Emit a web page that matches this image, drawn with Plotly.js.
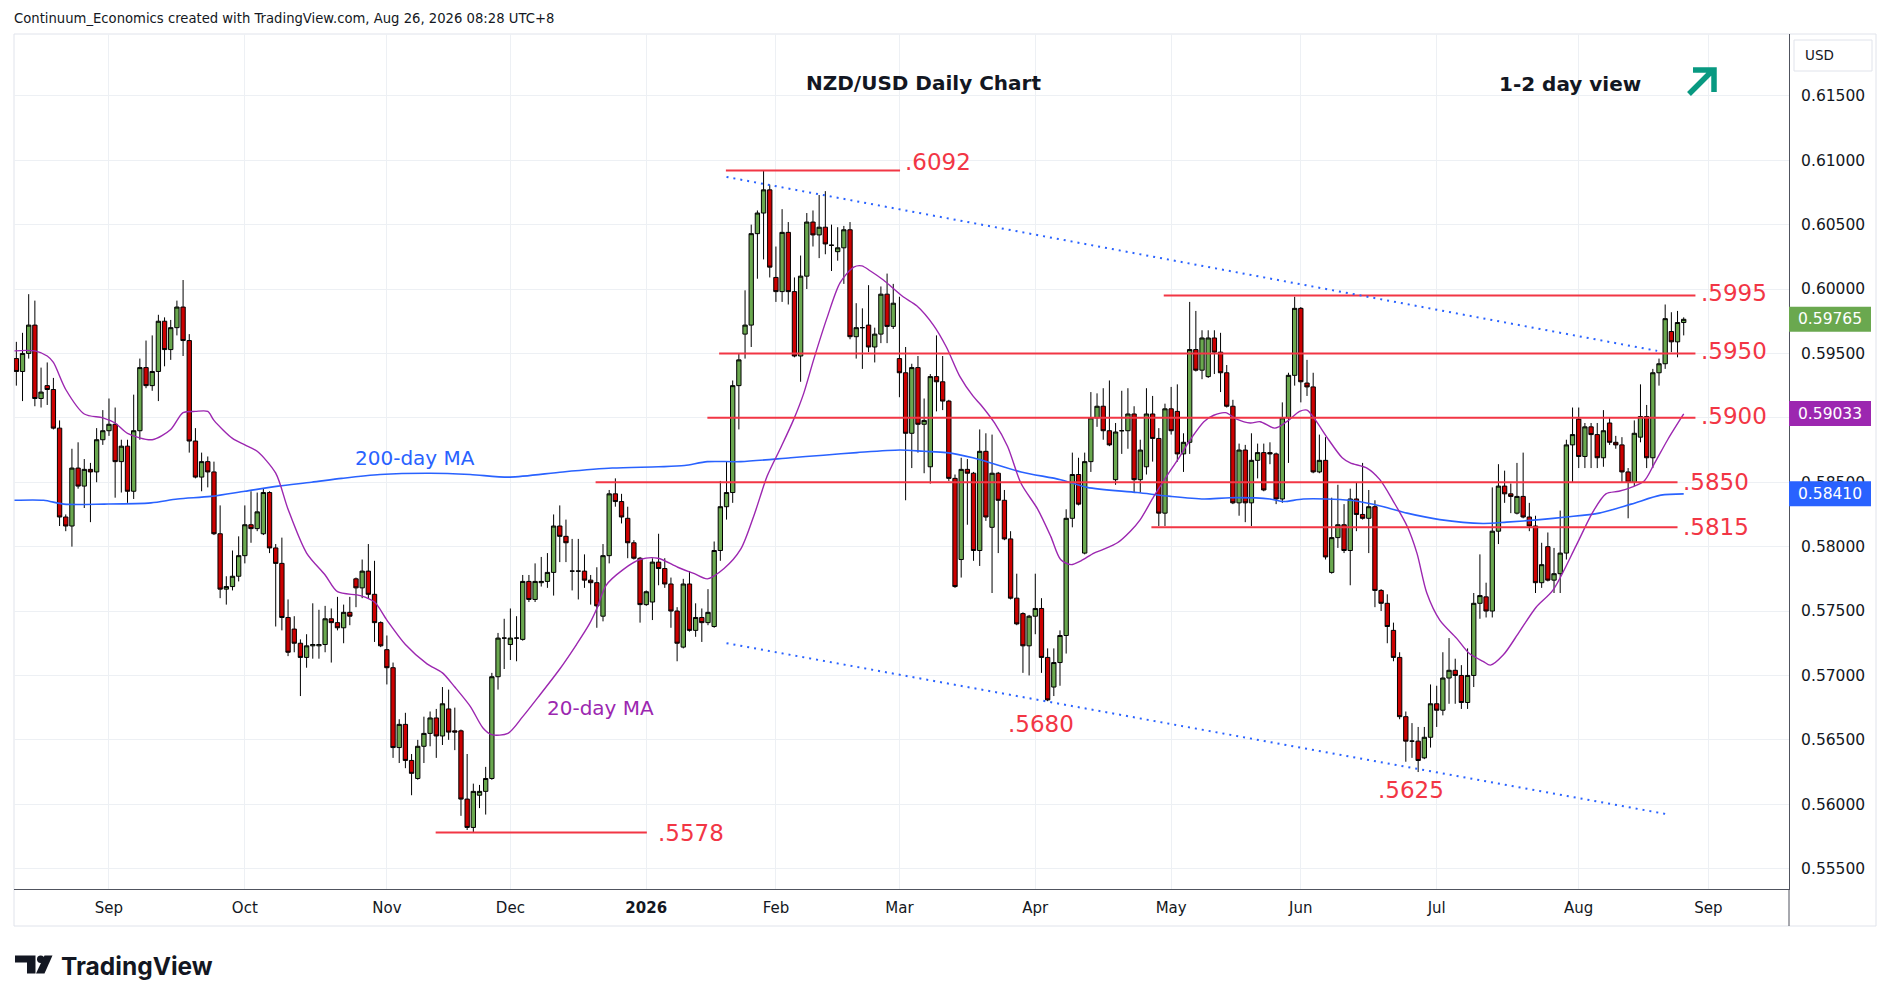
<!DOCTYPE html>
<html>
<head>
<meta charset="utf-8">
<script src="https://cdn.plot.ly/plotly-3.0.1.min.js"></script>
<style>html,body{margin:0;padding:0;background:#fff;}#chart{width:1889px;height:1003px;}</style>
</head>
<body>
<div id="chart"></div>
<script>
// ---------------- DATA ----------------
// daily bars, bar 1 = 11 Aug 2025, last bar = 26 Aug 2026
const openP = [
.5946,.5936,.5950,.5972,.5915,.5925,.5922,.5892,.5823,.5816,
.5861,.5847,.5860,.5858,.5883,.5890,.5895,.5866,.5878,.5843,
.5890,.5939,.5925,.5936,.5975,.5953,.5970,.5986,.5960,.5882,
.5854,.5866,.5858,.5810,.5767,.5769,.5777,.5793,.5817,.5814,
.5810,.5842,.5799,.5787,.5745,.5736,.5725,.5714,.5723,.5723,
.5724,.5744,.5741,.5737,.5749,.5775,.5768,.5781,.5763,.5741,
.5720,.5706,.5644,.5662,.5634,.5620,.5645,.5655,.5667,.5653,
.5674,.5657,.5657,.5604,.5582,.5607,.5610,.5620,.5699,.5729,
.5724,.5729,.5728,.5773,.5759,.5772,.5773,.5780,.5816,.5808,
.5781,.5781,.5781,.5774,.5772,.5746,.5793,.5841,.5835,.5822,
.5803,.5791,.5755,.5757,.5788,.5783,.5771,.5750,.5722,.5771,
.5735,.5745,.5741,.5738,.5797,.5831,.5842,.5925,.5965,.5972,
.6043,.6059,.6077,.6009,.5998,.6044,.5998,.5948,.6010,.6052,
.6042,.6048,.6034,.6029,.6032,.6046,.5963,.5970,.5972,.5955,
.5965,.5996,.5971,.5946,.5935,.5888,.5939,.5895,.5862,.5932,
.5928,.5913,.5853,.5790,.5860,.5857,.5797,.5874,.5815,.5857,
.5836,.5806,.5760,.5748,.5723,.5746,.5752,.5714,.5691,.5710,
.5731,.5822,.5856,.5795,.5866,.5900,.5909,.5890,.5852,.5890,
.5890,.5903,.5852,.5862,.5903,.5884,.5826,.5907,.5905,.5872,
.5881,.5953,.5937,.5932,.5962,.5951,.5935,.5909,.5834,.5875,
.5834,.5867,.5873,.5873,.5872,.5837,.5900,.5933,.5985,.5927,
.5924,.5858,.5867,.5780,.5807,.5817,.5797,.5837,.5825,.5822,
.5831,.5766,.5756,.5735,.5714,.5668,.5649,.5649,.5636,.5652,
.5678,.5673,.5698,.5704,.5700,.5679,.5700,.5756,.5761,.5750,
.5812,.5847,.5841,.5826,.5839,.5823,.5816,.5772,.5800,.5774,
.5779,.5795,.5879,.5899,.5870,.5893,.5887,.5869,.5896,.5881,
.5879,.5858,.5850,.5885,.5901,.5869,.5935,.5942,.5967,.5959,.5974];
const highP = [
.5959,.5966,.5996,.5991,.5939,.5943,.5931,.5898,.5825,.5876,
.5881,.5868,.5865,.5892,.5906,.5915,.5908,.5883,.5883,.5918,
.5946,.5960,.5964,.5980,.5978,.5976,.5991,.6007,.5965,.5892,
.5873,.5870,.5866,.5832,.5777,.5797,.5808,.5832,.5843,.5842,
.5845,.5843,.5802,.5807,.5759,.5746,.5728,.5732,.5756,.5751,
.5754,.5752,.5761,.5755,.5761,.5776,.5790,.5802,.5789,.5742,
.5731,.5710,.5666,.5671,.5639,.5650,.5668,.5672,.5674,.5691,
.5689,.5675,.5658,.5639,.5616,.5615,.5629,.5702,.5733,.5744,
.5752,.5746,.5778,.5778,.5787,.5792,.5795,.5825,.5832,.5821,
.5806,.5806,.5794,.5778,.5784,.5802,.5844,.5853,.5841,.5831,
.5805,.5792,.5766,.5791,.5810,.5791,.5776,.5753,.5775,.5781,
.5756,.5752,.5767,.5804,.5851,.5866,.5929,.5950,.5999,.6050,
.6061,.6092,.6081,.6033,.6062,.6052,.6009,.6026,.6059,.6061,
.6073,.6076,.6050,.6048,.6049,.6052,.5989,.5985,.6003,.5970,
.6002,.6012,.6004,.5994,.5955,.5942,.5948,.5915,.5934,.5964,
.5948,.5914,.5856,.5869,.5868,.5858,.5891,.5888,.5887,.5858,
.5844,.5812,.5779,.5749,.5747,.5779,.5760,.5721,.5721,.5735,
.5829,.5873,.5869,.5873,.5920,.5919,.5923,.5929,.5896,.5921,
.5923,.5909,.5883,.5923,.5917,.5892,.5911,.5924,.5926,.5888,
.5990,.5983,.5968,.5968,.5968,.5966,.5941,.5914,.5880,.5879,
.5888,.5880,.5880,.5881,.5873,.5912,.5935,.5994,.5986,.5945,
.5935,.5887,.5885,.5838,.5848,.5833,.5845,.5850,.5865,.5844,
.5836,.5767,.5763,.5741,.5718,.5672,.5663,.5660,.5660,.5693,
.5692,.5718,.5729,.5713,.5708,.5721,.5764,.5794,.5772,.5846,
.5864,.5859,.5849,.5865,.5873,.5834,.5824,.5803,.5811,.5799,
.5828,.5883,.5908,.5908,.5896,.5896,.5896,.5906,.5900,.5886,
.5885,.5861,.5898,.5926,.5910,.5938,.5946,.5988,.5982,.5983,.5978];
const lowP = [
.5925,.5913,.5946,.5909,.5908,.5910,.5891,.5816,.5812,.5800,
.5845,.5830,.5819,.5850,.5879,.5886,.5838,.5842,.5834,.5837,
.5883,.5923,.5921,.5913,.5940,.5945,.5964,.5948,.5873,.5853,
.5843,.5846,.5809,.5760,.5755,.5766,.5773,.5787,.5803,.5812,
.5809,.5795,.5738,.5735,.5715,.5718,.5684,.5706,.5713,.5713,
.5718,.5710,.5735,.5725,.5739,.5753,.5760,.5760,.5726,.5722,
.5693,.5636,.5632,.5628,.5607,.5619,.5632,.5645,.5636,.5646,
.5650,.5642,.5591,.5580,.5578,.5597,.5592,.5619,.5689,.5705,
.5712,.5711,.5727,.5757,.5757,.5769,.5768,.5762,.5788,.5788,
.5766,.5759,.5768,.5755,.5737,.5742,.5787,.5831,.5818,.5791,
.5790,.5741,.5754,.5743,.5770,.5768,.5737,.5711,.5721,.5734,
.5730,.5726,.5739,.5737,.5789,.5821,.5834,.5891,.5946,.5955,
.6008,.6023,.6009,.5990,.5990,.5988,.5947,.5928,.6000,.6033,
.6024,.6027,.6014,.6022,.6004,.5961,.5946,.5938,.5951,.5943,
.5958,.5958,.5969,.5916,.5836,.5861,.5873,.5857,.5849,.5905,
.5906,.5851,.5768,.5776,.5817,.5789,.5785,.5820,.5764,.5795,
.5805,.5759,.5739,.5702,.5700,.5732,.5702,.5680,.5684,.5692,
.5717,.5815,.5832,.5794,.5858,.5893,.5883,.5878,.5848,.5872,
.5876,.5842,.5842,.5856,.5866,.5816,.5816,.5887,.5866,.5858,
.5872,.5936,.5930,.5931,.5934,.5920,.5908,.5833,.5824,.5819,
.5816,.5853,.5843,.5864,.5833,.5834,.5865,.5925,.5912,.5917,
.5857,.5857,.5790,.5779,.5799,.5795,.5770,.5812,.5821,.5795,
.5753,.5750,.5725,.5711,.5666,.5633,.5636,.5625,.5635,.5644,
.5660,.5669,.5678,.5678,.5674,.5674,.5691,.5744,.5745,.5745,
.5802,.5834,.5826,.5825,.5822,.5812,.5764,.5768,.5773,.5764,
.5764,.5790,.5850,.5861,.5861,.5861,.5861,.5862,.5879,.5876,
.5850,.5822,.5847,.5881,.5861,.5861,.5925,.5938,.5951,.5947,.5964];
const closeP = [
.5936,.5950,.5972,.5915,.5920,.5922,.5892,.5823,.5816,.5861,
.5847,.5860,.5858,.5883,.5890,.5895,.5866,.5878,.5843,.5890,
.5939,.5925,.5936,.5975,.5953,.5970,.5986,.5960,.5882,.5854,
.5866,.5858,.5810,.5767,.5769,.5777,.5793,.5817,.5814,.5827,
.5842,.5799,.5787,.5745,.5718,.5725,.5714,.5723,.5724,.5724,
.5744,.5741,.5737,.5749,.5746,.5768,.5781,.5763,.5741,.5723,
.5706,.5644,.5662,.5634,.5624,.5645,.5655,.5667,.5653,.5678,
.5656,.5656,.5604,.5582,.5610,.5610,.5620,.5699,.5729,.5729,
.5729,.5729,.5773,.5759,.5773,.5773,.5780,.5816,.5808,.5803,
.5781,.5781,.5774,.5772,.5754,.5793,.5841,.5835,.5823,.5803,
.5791,.5755,.5765,.5788,.5783,.5771,.5750,.5725,.5771,.5735,
.5745,.5741,.5749,.5797,.5831,.5842,.5925,.5945,.5972,.6043,
.6059,.6077,.6017,.5998,.6044,.5998,.5948,.6010,.6052,.6042,
.6048,.6035,.6034,.6032,.6046,.5963,.5970,.5970,.5955,.5965,
.5996,.5971,.5989,.5935,.5888,.5939,.5895,.5898,.5932,.5928,
.5913,.5853,.5769,.5860,.5857,.5797,.5874,.5823,.5857,.5836,
.5806,.5760,.5740,.5723,.5746,.5752,.5714,.5681,.5710,.5731,
.5822,.5856,.5833,.5866,.5900,.5909,.5890,.5879,.5889,.5890,
.5903,.5852,.5875,.5903,.5884,.5826,.5907,.5890,.5872,.5881,
.5953,.5937,.5962,.5962,.5951,.5935,.5909,.5834,.5875,.5834,
.5867,.5873,.5844,.5872,.5837,.5900,.5933,.5985,.5928,.5924,
.5858,.5867,.5792,.5807,.5817,.5797,.5837,.5825,.5822,.5831,
.5766,.5756,.5738,.5714,.5668,.5649,.5649,.5634,.5652,.5678,
.5673,.5698,.5704,.5700,.5679,.5700,.5756,.5762,.5750,.5812,
.5847,.5841,.5839,.5839,.5823,.5816,.5772,.5786,.5774,.5779,
.5795,.5879,.5887,.5870,.5893,.5887,.5869,.5890,.5881,.5879,
.5858,.5850,.5888,.5901,.5869,.5935,.5942,.5977,.5959,.5974,.59765];

// 20-day moving average (at bar positions)
const ma20Bar = [0.7,4,6,7,9,12,15,17,19,23,26,28,30,32,33,36,38,40,43,45,48,51,53,56.7,59,61,64,67.5,70,72,74.5,76.6,78,80.6,83,85.8,89,91.7,93.8,95,96.5,99.2,102,104.9,108.1,110.8,112.9,115.6,118.3,120.5,122.6,124.8,126.9,128.5,130.1,132.3,134.4,136.6,137.9,139.3,141.4,144.6,146.8,149.5,151.6,153.8,155.9,157.2,159.4,161.5,163.7,166.4,168.5,170.1,171.8,173.4,175.5,177.1,179.3,181.4,183,185.2,187.3,189,191.1,193.3,194.9,196.8,198.6,200.8,202.4,204.8,206.7,208.8,210,211.4,213.5,215.7,217,219.7,221.8,224,226.2,227.8,229.4,231.5,234.2,236.3,238.5,239.7,241.8,244.4,247.1,249.8,253.6,256.3,258.4,260.5,262.5,264.6,266.2,268.4,271];
const ma20Val = [.5952,.5952,.5948,.5943,.5922,.5903,.5900,.5896,.5888,.5883,.5891,.5904,.5905,.5905,.5898,.5884,.5879,.5874,.5857,.5829,.5795,.5778,.5765,.5762,.5757,.5743,.5724,.5709,.5702,.5691,.5676,.5659,.5654,.5655,.5668,.5685,.5705,.5724,.5740,.5752,.5770,.5782,.5790,.5791,.5784,.5779,.5775,.5783,.5798,.5825,.5855,.5877,.5899,.5919,.5945,.5978,.6005,.6017,.6018,.6014,.6007,.5994,.5987,.5972,.5955,.5932,.5917,.5910,.5896,.5878,.5849,.5829,.5808,.5790,.5786,.5789,.5795,.5798,.5803,.5812,.5821,.5839,.5855,.5867,.5883,.5897,.5902,.5904,.5899,.5896,.5897,.5892,.5897,.5905,.5906,.5898,.5883,.5869,.5865,.5861,.5852,.5835,.5816,.5795,.5764,.5743,.5729,.5717,.5711,.5708,.5716,.5734,.5753,.5766,.5801,.5827,.5841,.5843,.5846,.5851,.5864,.5883,.5903];
// 200-day moving average
const ma200Bar = [0.7,5.4,8.7,15.2,22.8,27.1,32.5,38,43.4,48.8,53.7,59.9,68,74.5,80.9,89.5,97.5,105,109.2,112.9,118.3,126.4,131.7,137.1,144.1,147.9,151.6,155.9,163.7,170.1,174.4,182.5,187.9,193.3,197.6,204,206.2,209.4,217,222.4,226.2,231.5,238.5,242.3,247.7,252,257.3,262.5,267.3,271];
const ma200Val = [.5836,.5836,.5833,.5833,.5834,.5837,.5839,.5843,.5847,.5850,.5853,.5856,.5857,.5856,.5854,.5858,.5861,.5862,.5863,.5866,.5866,.5869,.5871,.5873,.5875,.5874,.5873,.5869,.5858,.5852,.5846,.5842,.5839,.5837,.5838,.5837,.5835,.5837,.5836,.5831,.5826,.5821,.5818,.5819,.5821,.5823,.5826,.5833,.5840,.5841];

// horizontal levels
const levelVals = [0.6092, 0.5995, 0.5950, 0.5900, 0.5850, 0.5815, 0.5578];
const levelText = ['.6092', '.5995', '.5950', '.5900', '.5850', '.5815', '.5578'];
const levelFrom = [115.9, 186.8, 114.8, 112.9, 94.8, 184.8, 68.9];
const levelTo   = [144.1, 272.9, 272.9, 272.9, 270.0, 270.0, 103.1];

// trend channel (blue dotted)
const trendUpperBar = [116.0, 266.7];
const trendUpperVal = [0.6087, 0.5952];
const trendLowerBar = [116.0, 268.6];
const trendLowerVal = [0.5725, 0.5592];

// swing-low labels
const lowLabelText = ['.5680', '.5625'];
const lowLabelBar  = [167.0, 226.9];
const lowLabelVal  = [0.56623, 0.56108];

// price-scale ticks and last values
const priceTicks = [0.555, 0.560, 0.565, 0.570, 0.575, 0.580, 0.585, 0.590, 0.595, 0.600, 0.605, 0.610, 0.615];
const hiddenTick = 0.590; // covered by the 20-day MA value box
const lastClose = 0.59765, lastMa20 = 0.59033, lastMa200 = 0.58410;

const monthNames = ['Jan','Feb','Mar','Apr','May','Jun','Jul','Aug','Sep','Oct','Nov','Dec'];
const skipDays = ['2025-12-25', '2026-01-01'];

// ---------------- BUILD ----------------
const nBars = closeP.length;
const bars = [];
for (let i = 0; i < nBars; i++) bars.push(i + 1);

// trading calendar for axis ticks
const barDates = [];
{
  const d = new Date(Date.UTC(2025, 7, 11));
  while (barDates.length < 300) {
    const wd = d.getUTCDay();
    const iso = d.toISOString().slice(0, 10);
    if (wd !== 0 && wd !== 6 && skipDays.indexOf(iso) < 0) barDates.push(new Date(d.getTime()));
    d.setUTCDate(d.getUTCDate() + 1);
  }
}
const tickVals = [], tickText = [];
for (let k = 2; k <= barDates.length; k++) {
  const m = barDates[k - 1].getUTCMonth(), pm = barDates[k - 2].getUTCMonth();
  if (m !== pm && k < 288) {
    tickVals.push(k);
    tickText.push(m === 0 ? '<b>' + barDates[k - 1].getUTCFullYear() + '</b>' : monthNames[m]);
  }
}
const priceTickText = priceTicks.map(v => Math.abs(v - hiddenTick) < 1e-9 ? '' : v.toFixed(5));

const W = 1889, H = 1003, PL = 14, PR = 1789, PT = 34, PB = 889;
const pxX = px => (px - PL) / (PR - PL);
const pxY = py => (PB - py) / (PB - PT);
const FONT = 'DejaVu Sans';
const RED = '#f23645';
const pxPerPrice = 12880;

const traces = [
  {
    type: 'candlestick', x: bars, open: openP, high: highP, low: lowP, close: closeP,
    increasing: { line: { color: '#000000', width: 1 }, fillcolor: '#6aa84f' },
    decreasing: { line: { color: '#000000', width: 1 }, fillcolor: '#cc0000' },
    whiskerwidth: 0, hoverinfo: 'skip', showlegend: false
  },
  {
    type: 'scatter', mode: 'lines', x: ma200Bar, y: ma200Val,
    line: { color: '#2962ff', width: 1.6, shape: 'spline', smoothing: 0.8 },
    hoverinfo: 'skip', showlegend: false
  },
  {
    type: 'scatter', mode: 'lines', x: ma20Bar, y: ma20Val,
    line: { color: '#9c27b0', width: 1.4, shape: 'spline', smoothing: 0.8 },
    hoverinfo: 'skip', showlegend: false
  }
];

const shapes = [];
const annotations = [];

// frame
shapes.push({ type: 'rect', xref: 'paper', yref: 'paper', x0: pxX(14), x1: pxX(1876), y0: pxY(926), y1: pxY(34),
  line: { color: '#e0e3eb', width: 1 }, fillcolor: 'rgba(0,0,0,0)', layer: 'below' });
shapes.push({ type: 'line', xref: 'paper', yref: 'paper', x0: 1, x1: 1, y0: pxY(926), y1: pxY(889),
  line: { color: '#50535e', width: 1 } });

// levels
const labelShift = [9, 2, 2, 2, 0, 0, 0];
const labelGap = [0.4, 0.5, 0.5, 0.5, 0.5, 0.5, 1.5];
levelVals.forEach((v, i) => {
  shapes.push({ type: 'line', xref: 'x', yref: 'y', x0: levelFrom[i], x1: levelTo[i], y0: v, y1: v,
    line: { color: RED, width: 2 } });
  annotations.push({ xref: 'x', yref: 'y', x: levelTo[i] + labelGap[i], y: v, xanchor: 'left', yanchor: 'middle',
    yshift: labelShift[i], text: levelText[i], showarrow: false,
    font: { family: FONT, size: 23, color: RED } });
});

// trend channel
shapes.push({ type: 'line', xref: 'x', yref: 'y', x0: trendUpperBar[0], x1: trendUpperBar[1], y0: trendUpperVal[0], y1: trendUpperVal[1],
  line: { color: '#2962ff', width: 2, dash: '2px,5px' } });
shapes.push({ type: 'line', xref: 'x', yref: 'y', x0: trendLowerBar[0], x1: trendLowerBar[1], y0: trendLowerVal[0], y1: trendLowerVal[1],
  line: { color: '#2962ff', width: 2, dash: '2px,5px' } });

lowLabelText.forEach((t, i) => {
  annotations.push({ xref: 'x', yref: 'y', x: lowLabelBar[i], y: lowLabelVal[i], xanchor: 'center', yanchor: 'middle',
    text: t, showarrow: false, font: { family: FONT, size: 23, color: RED } });
});

// MA labels
annotations.push({ xref: 'x', yref: 'y', x: 65.6, y: 0.58689, xanchor: 'center', yanchor: 'middle', text: '200-day MA', showarrow: false,
  font: { family: FONT, size: 20, color: '#2962ff' } });
annotations.push({ xref: 'x', yref: 'y', x: 95.6, y: 0.56744, xanchor: 'center', yanchor: 'middle', text: '20-day MA', showarrow: false,
  font: { family: FONT, size: 20, color: '#9c27b0' } });

// price-scale boxes
[[lastClose, '#6aa84f'], [lastMa20, '#9c27b0'], [lastMa200, '#2962ff']].forEach(([v, c]) => {
  const h = 12.5 / pxPerPrice;
  shapes.push({ type: 'rect', xref: 'paper', yref: 'y', x0: pxX(1789), x1: pxX(1871), y0: v - h, y1: v + h,
    fillcolor: c, line: { width: 0 } });
  annotations.push({ xref: 'paper', yref: 'y', x: pxX(1796), y: v, xanchor: 'left', yanchor: 'middle',
    text: v.toFixed(5), showarrow: false, font: { family: FONT, size: 15.5, color: '#ffffff' } });
});

// USD box
shapes.push({ type: 'rect', xref: 'paper', yref: 'paper', x0: pxX(1794), x1: pxX(1872), y0: pxY(71), y1: pxY(40),
  line: { color: '#e0e3eb', width: 1 }, fillcolor: '#ffffff' });
annotations.push({ xref: 'paper', yref: 'paper', x: pxX(1803), y: pxY(55), xanchor: 'left', yanchor: 'middle', text: 'USD', showarrow: false,
  font: { family: FONT, size: 13.5, color: '#131722' } });

// header and titles
annotations.push({ xref: 'paper', yref: 'paper', x: pxX(12), y: pxY(18), xanchor: 'left', yanchor: 'middle',
  text: 'Continuum_Economics created with TradingView.com, Aug 26, 2026 08:28 UTC+8', showarrow: false,
  font: { family: FONT, size: 13.2, color: '#131722' } });
annotations.push({ xref: 'paper', yref: 'paper', x: pxX(923), y: pxY(83), xanchor: 'center', yanchor: 'middle',
  text: 'NZD/USD Daily Chart', showarrow: false,
  font: { family: FONT, size: 20, color: '#131722', weight: 'bold' } });
annotations.push({ xref: 'paper', yref: 'paper', x: pxX(1570), y: pxY(84), xanchor: 'center', yanchor: 'middle',
  text: '1-2 day view', showarrow: false,
  font: { family: FONT, size: 20, color: '#131722', weight: 'bold' } });

// up arrow
const P = (x, y) => pxX(x).toFixed(5) + ',' + pxY(y).toFixed(5);
shapes.push({ type: 'path', xref: 'paper', yref: 'paper',
  path: 'M' + P(1689, 94) + 'L' + P(1711, 72) + 'M' + P(1693, 70) + 'L' + P(1714, 70) + 'L' + P(1714, 92),
  line: { color: '#089981', width: 5.5 } });

// TradingView logo
shapes.push({ type: 'path', xref: 'paper', yref: 'paper',
  path: 'M' + P(15, 955.5) + 'L' + P(35.5, 955.5) + 'L' + P(35.5, 973.5) + 'L' + P(27, 973.5) + 'L' + P(27, 962.5) + 'L' + P(15, 962.5) + 'Z',
  fillcolor: '#131722', line: { width: 0 } });
shapes.push({ type: 'circle', xref: 'paper', yref: 'paper', x0: pxX(37), x1: pxX(44.4), y0: pxY(963), y1: pxY(955.6),
  fillcolor: '#131722', line: { width: 0 } });
shapes.push({ type: 'path', xref: 'paper', yref: 'paper',
  path: 'M' + P(44.5, 955.5) + 'L' + P(52.5, 955.5) + 'L' + P(44.5, 973.5) + 'L' + P(36, 973.5) + 'Z',
  fillcolor: '#131722', line: { width: 0 } });
annotations.push({ xref: 'paper', yref: 'paper', x: pxX(59), y: pxY(966), xanchor: 'left', yanchor: 'middle',
  text: 'TradingView', showarrow: false,
  font: { family: 'Inter', size: 24.5, color: '#131722', weight: 'bold' } });

const layout = {
  width: W, height: H,
  margin: { l: PL, r: W - PR, t: PT, b: H - PB, pad: 0 },
  paper_bgcolor: '#ffffff', plot_bgcolor: '#ffffff',
  showlegend: false, hovermode: false,
  boxgap: 0.3, boxgroupgap: 0,
  xaxis: {
    range: [0.62, 288.05], type: 'linear',
    tickmode: 'array', tickvals: tickVals, ticktext: tickText,
    showgrid: true, gridcolor: '#edf0f4', gridwidth: 1, zeroline: false,
    showline: true, linecolor: '#50535e', linewidth: 1, ticks: '',
    tickfont: { family: FONT, size: 15, color: '#131722' },
    ticklabelstandoff: 5,
    rangeslider: { visible: false }, fixedrange: true
  },
  yaxis: {
    side: 'right', range: [0.55342, 0.61980],
    tickmode: 'array', tickvals: priceTicks, ticktext: priceTickText,
    showgrid: true, gridcolor: '#edf0f4', gridwidth: 1, zeroline: false,
    showline: true, linecolor: '#50535e', linewidth: 1, ticks: '',
    tickfont: { family: FONT, size: 15.5, color: '#131722' },
    ticklabelstandoff: 8, fixedrange: true
  },
  shapes: shapes,
  annotations: annotations
};

Plotly.newPlot('chart', traces, layout, { staticPlot: true, displayModeBar: false });
</script>
</body>
</html>
